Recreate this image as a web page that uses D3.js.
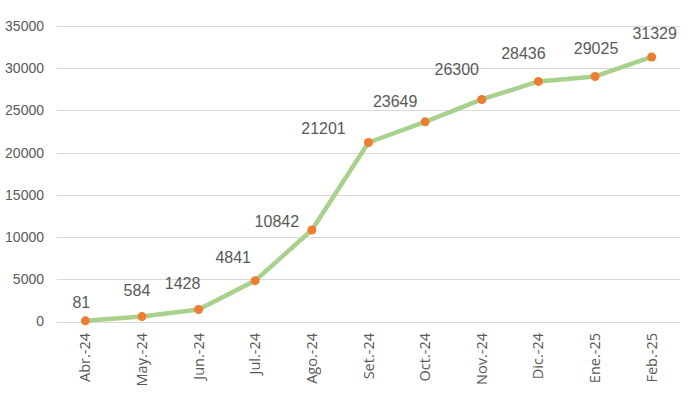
<!DOCTYPE html>
<html>
<head>
<meta charset="utf-8">
<script src="https://cdn.jsdelivr.net/npm/d3@7"></script>
<style>
  body { margin: 0; background: #fff; }
</style>
</head>
<body>
<div class="chart"></div>
<script>
// data
let months = ['Abr.-24', 'May.-24', 'Jun.-24', 'Jul.-24', 'Ago.-24', 'Set.-24',
  'Oct.-24', 'Nov.-24', 'Dic.-24', 'Ene.-25', 'Feb.-25'];
let values = [81, 584, 1428, 4841, 10842, 21201, 23649, 26300, 28436, 29025, 31329];
let yTicks = [0, 5000, 10000, 15000, 20000, 25000, 30000, 35000];

// label nudges (dx, dy from the point), as placed in the original
let labelShift = [[-4, -18], [-5, -26], [-16, -26], [-22, -23], [-35, -9], [-45, -14],
  [-30, -20], [-25, -30], [-15, -28], [1, -28], [3, -24]];

let width = 689, height = 397;
let margin = {top: 26, right: 9, bottom: 75, left: 57};

let svg = d3.select('div.chart').append('svg')
  .attr('width', width)
  .attr('height', height);

let x = d3.scaleBand()
  .domain(months)
  .range([margin.left, width - margin.right]);

let y = d3.scaleLinear()
  .domain([0, 35000])
  .range([height - margin.bottom - 0.5, margin.top]);

// gridlines
svg.append('g')
  .selectAll('line')
  .data(yTicks)
  .enter().append('line')
  .attr('x1', margin.left).attr('x2', width - margin.right)
  .attr('y1', d => Math.round(y(d)) + 0.5)
  .attr('y2', d => Math.round(y(d)) + 0.5)
  .attr('stroke', '#d9d9d9')
  .attr('stroke-width', 1);

// y labels
svg.append('g')
  .selectAll('text')
  .data(yTicks)
  .enter().append('text')
  .attr('x', 44)
  .attr('y', d => y(d))
  .attr('dy', '0.35em')
  .attr('text-anchor', 'end')
  .attr('font-family', 'Liberation Sans, Arial, sans-serif')
  .attr('font-size', '14px')
  .attr('fill', '#595959')
  .text(d => d);

// x labels
svg.append('g')
  .selectAll('text')
  .data(months)
  .enter().append('text')
  .attr('transform', d => 'translate(' + (x(d) + x.bandwidth() / 2) + ',' + 333 + ') rotate(-90)')
  .attr('dy', '0.35em')
  .attr('text-anchor', 'end')
  .attr('font-family', 'Open Sans, sans-serif')
  .attr('font-size', '14.5px')
  .attr('fill', '#595959')
  .text(d => d);

let px = (d, i) => x(months[i]) + x.bandwidth() / 2;

let line = d3.line()
  .x(px)
  .y(d => y(d));

svg.append('path')
  .datum(values)
  .attr('d', line)
  .attr('fill', 'none')
  .attr('stroke', '#a9d18e')
  .attr('stroke-width', 4.5)
  .attr('stroke-linejoin', 'round')
  .attr('stroke-linecap', 'round');

svg.append('g')
  .selectAll('circle')
  .data(values)
  .enter().append('circle')
  .attr('cx', px)
  .attr('cy', d => y(d))
  .attr('r', 4.5)
  .attr('fill', '#ed7d31');

// data labels
svg.append('g')
  .selectAll('text')
  .data(values)
  .enter().append('text')
  .attr('x', (d, i) => px(d, i) + labelShift[i][0])
  .attr('y', (d, i) => y(d) + labelShift[i][1])
  .attr('dy', '0.35em')
  .attr('text-anchor', 'middle')
  .attr('font-family', 'Liberation Sans, Arial, sans-serif')
  .attr('font-size', '16px')
  .attr('fill', '#595959')
  .text(d => d);
</script>
</body>
</html>
